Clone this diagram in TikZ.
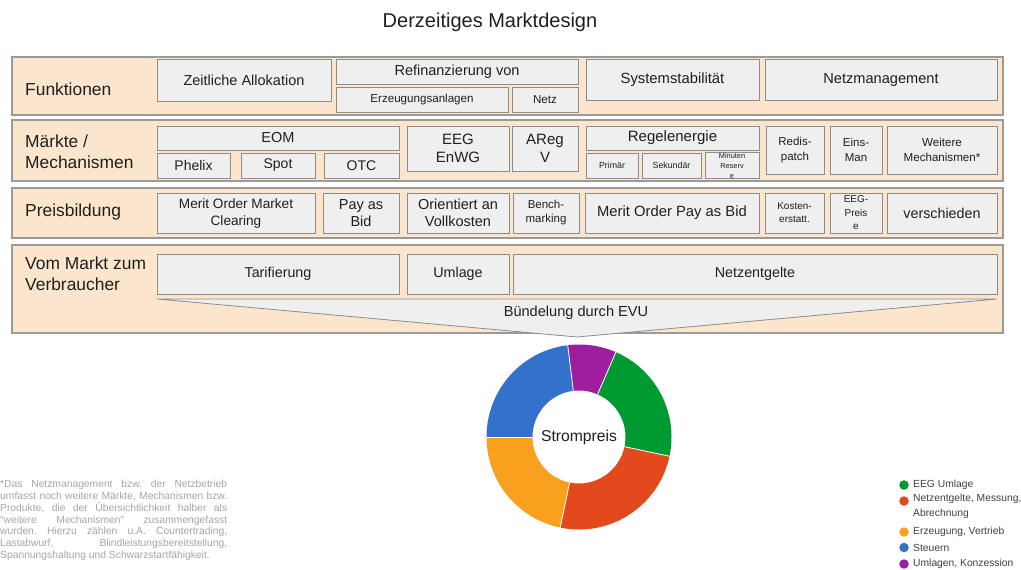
\documentclass[tikz,border=0pt]{standalone}
\usepackage{fontspec}
\setmainfont{Liberation Sans}
\definecolor{bandfill}{HTML}{FCE5CD}
\definecolor{bandline}{HTML}{9A9A9A}
\definecolor{boxfill}{HTML}{EFEFEF}
\definecolor{boxline}{HTML}{8C8C8C}
\definecolor{txt}{HTML}{1F1F1F}
\definecolor{notegray}{HTML}{A6A6A6}
\definecolor{leggray}{HTML}{404040}
\definecolor{cgreen}{HTML}{009A33}
\definecolor{cred}{HTML}{E2491D}
\definecolor{corange}{HTML}{F9A11E}
\definecolor{cblue}{HTML}{3471CD}
\definecolor{cpurple}{HTML}{9E1E9E}
\newcommand\fz[2]{\fontsize{#1}{#2}\selectfont}
\newcommand\donutsector[3]{\fill[#1] (#2:92.5) arc[start angle=#2,end angle=#3,radius=92.5] -- (#3:46.5) arc[start angle=#3,end angle=#2,radius=46.5] -- cycle;}
\newcommand\donutsep[1]{\draw[sep] (#1:46.5) -- (#1:92.5);}
\begin{document}
\begin{tikzpicture}[x=1pt,y=-1pt,
 band/.style={draw=bandline, fill=bandfill, line width=1.1pt, inner sep=0pt},
 bx/.style={draw=boxline, fill=boxfill, line width=0.8pt, inner sep=0pt, align=center, text=txt},
 lbl/.style={anchor=west, align=left, text=txt, inner sep=0pt, font=\fz{17.4}{21}},
 legtxt/.style={anchor=west, align=left, text=leggray, inner sep=0pt, font=\fz{10.3}{14.5}},
 dot/.style={circle, inner sep=0pt, minimum size=9.5pt},
 sep/.style={draw=white, line width=0.8pt}]
\useasboundingbox (0,0) rectangle (1021,570);
\fill[white] (0,0) rectangle (1021,570);

% title
\node[text=txt, font=\fz{20}{23}] (title) at (490,22) {Derzeitiges Marktdesign};

% bands
\node[band, minimum width=991pt, minimum height=58pt] (b1) at (507.5,86) {};
\node[band, minimum width=991pt, minimum height=61pt] (b2) at (507.5,150.5) {};
\node[band, minimum width=991pt, minimum height=50pt] (b3) at (507.5,213) {};
\node[band, minimum width=991pt, minimum height=88pt] (b4) at (507.5,289) {};

\node[lbl] (l1) at (25,89) {Funktionen};
\node[lbl] (l2) at (25,152) {Märkte /\\Mechanismen};
\node[lbl] (l3) at (25,212) {Preisbildung};
\node[lbl] (l4) at (25,273.5) {Vom Markt zum\\Verbraucher};

% row 1: Funktionen
\node[bx, minimum width=174pt, minimum height=42pt, font=\fz{14.5}{17}] (zeit) at (244,80) {Zeitliche Allokation};
\node[bx, minimum width=242pt, minimum height=25pt, font=\fz{14.5}{17}] (refi) at (457,71.5) {Refinanzierung von};
\node[bx, minimum width=172pt, minimum height=25pt, font=\fz{11.6}{14}] (erz) at (422,99.5) {Erzeugungsanlagen};
\node[bx, minimum width=66pt, minimum height=25pt, font=\fz{11.6}{14}] (netz) at (545,99.5) {Netz};
\node[bx, minimum width=173pt, minimum height=41pt, font=\fz{14.8}{17}] (sys) at (672.5,79.5) {Systemstabilität};
\node[bx, minimum width=232pt, minimum height=41pt, font=\fz{14.6}{17}] (nm) at (881,79.5) {Netzmanagement};

% row 2: Maerkte / Mechanismen
\node[bx, minimum width=242pt, minimum height=24pt, font=\fz{14.5}{17}] (eom) at (278,138) {EOM};
\node[bx, minimum width=73pt, minimum height=25pt, font=\fz{14}{17}] (phelix) at (193.5,165.5) {Phelix};
\node[bx, minimum width=74pt, minimum height=25pt, font=\fz{14}{17}] (spot) at (278,165.5) {Spot};
\node[bx, minimum width=75pt, minimum height=25pt, font=\fz{14}{17}] (otc) at (361.5,165.5) {OTC};
\node[bx, minimum width=102pt, minimum height=45pt, font=\fz{15}{18}] (eeg) at (458,148.5) {EEG\\EnWG};
\node[bx, minimum width=66pt, minimum height=45pt, font=\fz{15}{18}] (areg) at (545,148.5) {AReg\\V};
\node[bx, minimum width=173pt, minimum height=24pt, font=\fz{15}{17}] (regel) at (672.5,138) {Regelenergie};
\node[bx, minimum width=52pt, minimum height=25pt, font=\fz{8.8}{10}] (prim) at (612,165.5) {Primär};
\node[bx, minimum width=59pt, minimum height=25pt, font=\fz{8.8}{10}] (sek) at (671.5,165.5) {Sekundär};
\node[bx, minimum width=54pt, minimum height=25pt, font=\fz{7.4}{10}] (minr) at (732,165.5) {Minuten\\Reserv\\e};
\node[bx, minimum width=58pt, minimum height=48pt, font=\fz{11.5}{14.5}] (redis) at (795,150) {Redis-\\patch};
\node[bx, minimum width=52pt, minimum height=48pt, font=\fz{11.5}{14.5}] (eins) at (856,150) {Eins-\\Man};
\node[bx, minimum width=110pt, minimum height=48pt, font=\fz{11.6}{14.5}] (weit) at (942,150) {Weitere\\Mechanismen*};

% row 3: Preisbildung
\node[bx, minimum width=158pt, minimum height=40pt, font=\fz{13.6}{17}] (mom) at (236,213) {Merit Order Market\\Clearing};
\node[bx, minimum width=76pt, minimum height=40pt, font=\fz{14.5}{17}] (pab) at (361,213) {Pay as\\Bid};
\node[bx, minimum width=102pt, minimum height=40pt, font=\fz{14.5}{17}] (voll) at (458,213) {Orientiert an\\Vollkosten};
\node[bx, minimum width=66pt, minimum height=40pt, font=\fz{11.5}{14}] (bench) at (546,213) {Bench-\\marking};
\node[bx, minimum width=174pt, minimum height=40pt, font=\fz{14.8}{17}] (mopab) at (672,213) {Merit Order Pay as Bid};
\node[bx, minimum width=59pt, minimum height=40pt, font=\fz{10}{13}] (kost) at (794.5,213) {Kosten-\\erstatt.};
\node[bx, minimum width=52pt, minimum height=40pt, font=\fz{10}{13.5}] (eegp) at (856,213) {EEG-\\Preis\\e};
\node[bx, minimum width=110pt, minimum height=40pt, font=\fz{14.3}{17}] (versch) at (942,213) {verschieden};

% row 4: Vom Markt zum Verbraucher
\node[bx, minimum width=242pt, minimum height=40pt, font=\fz{14.3}{17}] (tarif) at (278,274) {Tarifierung};
\node[bx, minimum width=102pt, minimum height=40pt, font=\fz{14.3}{17}] (uml) at (458,274) {Umlage};
\node[bx, minimum width=484pt, minimum height=40pt, font=\fz{14.3}{17}] (netzentg) at (755,274) {Netzentgelte};

\coordinate (cvl) at (157,299);
\coordinate (cvr) at (997,299);
\coordinate (cvp) at (577,337);
\draw[draw=boxline, fill=boxfill, line width=0.8pt] (cvl) -- (cvr) -- (cvp) -- cycle;
\node[text=txt, font=\fz{14.6}{17}] (buend) at (576,313) {Bündelung durch EVU};

% donut
\begin{scope}[shift={(579,437)}, yscale=-1]
\donutsector{cpurple}{97}{66.5}
\donutsector{cgreen}{66.5}{-12}
\donutsector{cred}{-12}{-101.7}
\donutsector{corange}{-101.7}{-180}
\donutsector{cblue}{-180}{-263}
\donutsep{97}\donutsep{66.5}\donutsep{-12}\donutsep{-101.7}\donutsep{-180}
\end{scope}
\node[text=txt, font=\fz{15.7}{18}] (strom) at (579,437) {Strompreis};

% footnote
\node[anchor=north west, inner sep=0pt, text width=227pt, align=justify, text=notegray, font=\fz{10.3}{11.8}] (note) at (0,480)
{\frenchspacing\hyphenpenalty=10000\exhyphenpenalty=10000 *Das Netzmanagement bzw. der Netzbetrieb\linebreak
umfasst noch weitere Märkte, Mechanismen bzw.\linebreak
Produkte, die der Übersichtlichkeit halber als\linebreak
“weitere Mechanismen” zusammengefasst\linebreak
wurden. Hierzu zählen u.A. Countertrading,\linebreak
Lastabwurf, Blindleistungsbereitstellung,\linebreak
Spannungshaltung und Schwarzstartfähigkeit.};

% legend
\node[dot, fill=cgreen] (d1) at (904,485) {};
\node[dot, fill=cred] (d2) at (904,501) {};
\node[dot, fill=corange] (d3) at (904,532) {};
\node[dot, fill=cblue] (d4) at (904,547.5) {};
\node[dot, fill=cpurple] (d5) at (904,564) {};
\node[legtxt] (t1) at (913,485) {EEG Umlage};
\node[legtxt, anchor=north west] (t2) at (913,494) {Netzentgelte, Messung,\\Abrechnung};
\node[legtxt] (t3) at (913,532) {Erzeugung, Vertrieb};
\node[legtxt] (t4) at (913,547.5) {Steuern};
\node[legtxt] (t5) at (913,564) {Umlagen, Konzession};
\end{tikzpicture}
\end{document}
